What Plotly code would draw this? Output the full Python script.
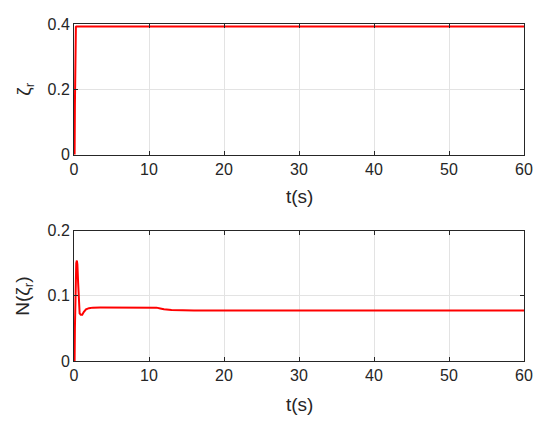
import plotly.graph_objects as go

# Data
t_top = [0, 0.08, 0.12, 0.16, 0.2, 0.25, 0.3, 60]
zeta_r = [0, 0.0, 0.15, 0.33, 0.385, 0.391, 0.392, 0.392]

t_bot = [0, 0.08, 0.12, 0.2, 0.3, 0.38, 0.45, 0.55, 0.65, 0.75, 0.9, 1.1, 1.3,
         1.6, 2.0, 2.5, 3.5, 6, 10.5, 11, 11.5, 12, 13, 14, 16, 20, 60]
N_zeta = [0, 0.0, 0.05, 0.12, 0.15, 0.154, 0.148, 0.12, 0.09, 0.073, 0.071, 0.071,
          0.075, 0.079, 0.081, 0.0818, 0.082, 0.082, 0.082, 0.0818, 0.0805, 0.0793,
          0.0782, 0.0777, 0.0775, 0.0775, 0.0775]

x_ticks = [0, 10, 20, 30, 40, 50, 60]
y_ticks_top = [0, 0.2, 0.4]
y_ticks_bot = [0, 0.1, 0.2]

W, H = 550, 428
L, R, T, B = 74.3, 25.7, 24, 67
PW, PH = W - L - R, H - T - B
axc = "#262626"
font = "Liberation Sans, Arial, Helvetica, sans-serif"


def px(x):
    return (x - L) / PW


def py(y):
    return (H - B - y) / PH


fig = go.Figure()
fig.add_trace(go.Scatter(x=t_top, y=zeta_r, mode="lines",
                         line=dict(color="#ff0000", width=2), xaxis="x", yaxis="y",
                         showlegend=False))
fig.add_trace(go.Scatter(x=t_bot, y=N_zeta, mode="lines",
                         line=dict(color="#ff0000", width=2), xaxis="x2", yaxis="y2",
                         showlegend=False))

yd_top = [py(154.5), 1]
yd_bot = [0, py(230.5)]

common_x = dict(range=[0, 60], tickvals=x_ticks, showgrid=True, gridcolor="#e3e3e3",
                gridwidth=1, zeroline=False, showline=True, linecolor=axc, linewidth=1,
                mirror="ticks", ticks="inside", ticklen=4, tickcolor=axc,
                tickfont=dict(family=font, size=16, color=axc), domain=[0, 1],
                automargin=False)
common_y = dict(showgrid=True, gridcolor="#e3e3e3", gridwidth=1, zeroline=False,
                showline=True, linecolor=axc, linewidth=1, mirror="ticks",
                ticks="inside", ticklen=4, tickcolor=axc, automargin=False,
                tickfont=dict(family=font, size=16, color=axc))

fig.update_layout(
    width=W, height=H, margin=dict(l=L, r=R, t=T, b=B, autoexpand=False),
    plot_bgcolor="white", paper_bgcolor="white",
    xaxis=dict(**common_x, anchor="y"),
    yaxis=dict(**common_y, range=[0, 0.4], tickvals=y_ticks_top,
               ticktext=["0", "0.2", "0.4"], domain=yd_top, anchor="x"),
    xaxis2=dict(**common_x, anchor="y2"),
    yaxis2=dict(**common_y, range=[0, 0.2], tickvals=y_ticks_bot,
                ticktext=["0", "0.1", "0.2"], domain=yd_bot, anchor="x2"),
    annotations=[
        dict(text="t(s)", x=px(299.3), y=py(196), xref="paper", yref="paper",
             showarrow=False, font=dict(family=font, size=19, color=axc),
             xanchor="center", yanchor="middle"),
        dict(text="t(s)", x=px(299.3), y=py(404), xref="paper", yref="paper",
             showarrow=False, font=dict(family=font, size=19, color=axc),
             xanchor="center", yanchor="middle"),
        dict(text="ζ<sub>r</sub>", x=px(25), y=py(89), xref="paper", yref="paper",
             showarrow=False, textangle=-90, font=dict(family=font, size=19, color=axc),
             xanchor="center", yanchor="middle"),
        dict(text="N(ζ<sub>r</sub>)", x=px(24), y=py(296), xref="paper", yref="paper",
             showarrow=False, textangle=-90, font=dict(family=font, size=19, color=axc),
             xanchor="center", yanchor="middle"),
    ],
)

fig.write_html("out.html", config={"displayModeBar": False},
               post_script="document.body.style.margin='0px';document.body.style.padding='0px';")
